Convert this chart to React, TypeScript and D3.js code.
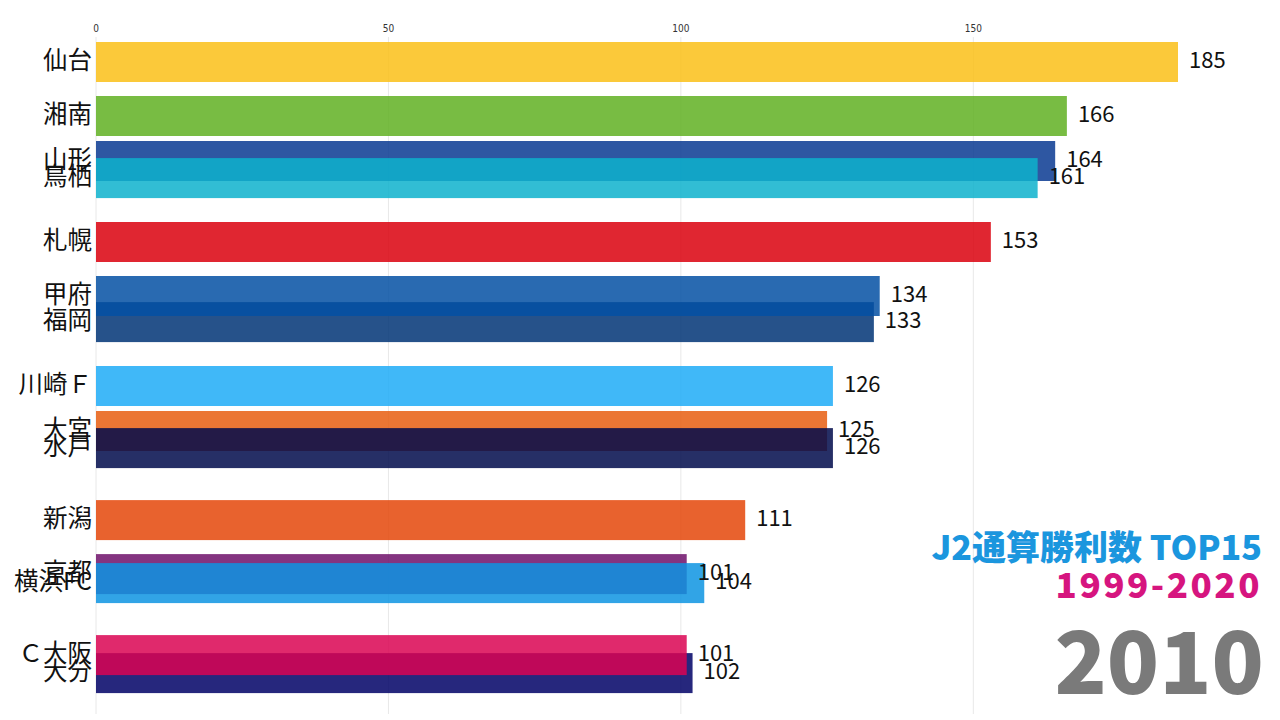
import React from "react";
import * as d3 from "d3";

const teams = ["仙台", "湘南", "山形", "鳥栖", "札幌", "福岡", "甲府", "川崎Ｆ", "大宮", "水戸", "新潟", "京都", "横浜FC", "大分", "Ｃ大阪"];
const wins = [185, 166, 164, 161, 153, 133, 134, 126, 125, 126, 111, 101, 104, 102, 101];
// interpolated rank positions (mid-transition frame)
const ranks = [0, 1.2, 2.2, 2.58, 4.0, 5.78, 5.2, 7.2, 8.2, 8.58, 10.18, 11.38, 11.58, 13.58, 13.18];
const colors = ["#FABF18", "#60B022", "#093992", "#0DB2CC", "#DB000D", "#003475", "#0450A3", "#1FABF7", "#E75E10", "#000A4B", "#E44609", "#6F116A", "#0D94E2", "#000166", "#DB0352"];
const ticks = [0, 50, 100, 150];
const titleLine1 = "J2通算勝利数 TOP15";
const titleLine2 = "1999-2020";
const yearLabel = "2010";

const W = 1280;
const H = 720;
const left = 96;
const right = 1178;
const top = 42;
const step = 45;
const barH = 40;

export default function App() {
  const x = d3.scaleLinear().domain([0, d3.max(wins) as number]).range([left, right]);
  const y = d3.scaleLinear().domain([0, 14]).range([top, top + 14 * step]);
  const cjk = "'Noto Sans CJK JP', 'Noto Sans', sans-serif";

  return (
    <svg width={W} height={H} style={{ position: "absolute", left: 0, top: 0, background: "#fff" }}>
      <rect x={0} y={0} width={W} height={H} fill="#fff" />
      {ticks.map((t) => (
        <g key={t}>
          <line x1={x(t)} x2={x(t)} y1={37} y2={714} stroke="#e8e8e8" strokeWidth={1} />
          <text x={x(t)} y={32} textAnchor="middle" fontSize={10} fill="#333" fontFamily="'DejaVu Sans Condensed', 'Liberation Sans Narrow', sans-serif">
            {t}
          </text>
        </g>
      ))}
      {teams.map((t, i) => (
        <rect key={t} x={x(0)} y={y(ranks[i])} width={x(wins[i]) - x(0)} height={barH} fill={colors[i]} fillOpacity={0.85} />
      ))}
      {teams.map((t, i) => (
        <text key={t} x={92} y={y(ranks[i]) + barH / 2 - 4} textAnchor="end" dominantBaseline="central" fontSize={24.5} fill="#111" fontFamily={cjk}>
          {t}
        </text>
      ))}
      {teams.map((t, i) => (
        <text key={t} x={x(wins[i]) + 11} y={y(ranks[i]) + barH / 2 - 4} dominantBaseline="central" fontSize={22} fill="#111" fontFamily={cjk}>
          {wins[i]}
        </text>
      ))}
      <text x={1262} y={560} textAnchor="end" fontSize={34} fontWeight={900} fill="#1B96DE" fontFamily={cjk}>
        {titleLine1}
      </text>
      <text x={1262} y={598} textAnchor="end" fontSize={35} fontWeight={900} letterSpacing={2.5} fill="#D6157F" fontFamily={cjk}>
        {titleLine2}
      </text>
      <text x={1264} y={694} textAnchor="end" fontSize={86} fontWeight={900} fill="#7a7a7a" fontFamily={cjk}>
        {yearLabel}
      </text>
    </svg>
  );
}
